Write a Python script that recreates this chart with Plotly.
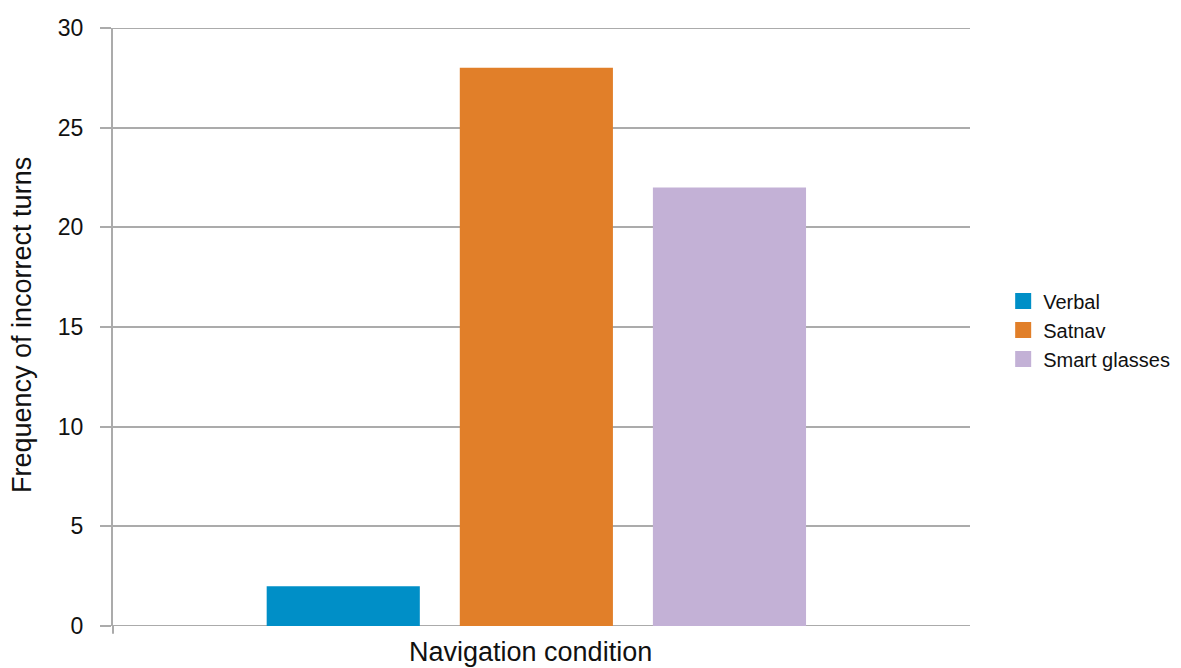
import plotly.graph_objects as go

# Incorrect turns by navigation condition
group = ["Navigation condition"]
conditions = ["Verbal", "Satnav", "Smart glasses"]
incorrect_turns = [2, 28, 22]
colors = ["#008fc7", "#e17f29", "#c3b1d6"]

y_ticks = [0, 5, 10, 15, 20, 25, 30]
x_title = "Navigation condition"
y_title = "Frequency of incorrect turns"
grid_color = "#ababab"

fig = go.Figure()
for name, val, col in zip(conditions, incorrect_turns, colors):
    fig.add_trace(go.Bar(x=group, y=[val], name=name, showlegend=False,
                         marker=dict(color=col, line=dict(width=0))))
    # legend entry with a larger square swatch
    fig.add_trace(go.Scatter(x=[None], y=[None], mode="markers", name=name,
                             marker=dict(symbol="square", size=19, color=col)))

# plot area spans 857 px of the 1068 px wide paper; the legend sits to its right
plot_frac = 857 / 1068

fig.update_layout(
    width=1181, height=668,
    margin=dict(l=113, r=0, t=28, b=42, autoexpand=False),
    paper_bgcolor="white", plot_bgcolor="white",
    font=dict(family="Liberation Sans, Arial, sans-serif", color="#111111"),
    barmode="group", bargap=0.324, bargroupgap=0.207,
    legend=dict(x=0.8335, xanchor="left", y=0.495, yanchor="middle",
                font=dict(size=20), traceorder="normal", tracegroupgap=0),
    xaxis=dict(domain=[0, plot_frac], range=[-0.494, 0.506], showticklabels=False,
               ticks="", showgrid=False, zeroline=False, showline=False, automargin=False),
    yaxis=dict(range=[0, 30], tickvals=y_ticks, showgrid=True, gridcolor=grid_color,
               gridwidth=2, zeroline=False, showline=True, linecolor=grid_color,
               linewidth=2, ticks="outside", ticklen=11, tickcolor=grid_color,
               tickwidth=2, tickfont=dict(size=23), ticklabelstandoff=12,
               automargin=False),
)

# axis titles
fig.add_annotation(text=x_title, xref="paper", yref="paper", x=(530 - 113) / 1068,
                   y=-0.0435, xanchor="center", yanchor="middle", showarrow=False,
                   font=dict(size=27))
fig.add_annotation(text=y_title, xref="paper", yref="paper", x=(22 - 113) / 1068,
                   y=(626 - 325) / 598, xanchor="center", yanchor="middle", showarrow=False,
                   textangle=-90, font=dict(size=27))

# grid lines at the ends of the value range
for v in (y_ticks[0], y_ticks[-1]):
    fig.add_shape(type="line", xref="x domain", yref="y", x0=0, x1=1, y0=v, y1=v,
                  line=dict(color=grid_color, width=2), layer="below")

# small downward tick below the origin of the value axis
fig.add_shape(type="line", xref="paper", yref="paper", x0=0, x1=0, y0=0, y1=-0.013,
              line=dict(color=grid_color, width=2), layer="below")

fig.write_html("out.html")
